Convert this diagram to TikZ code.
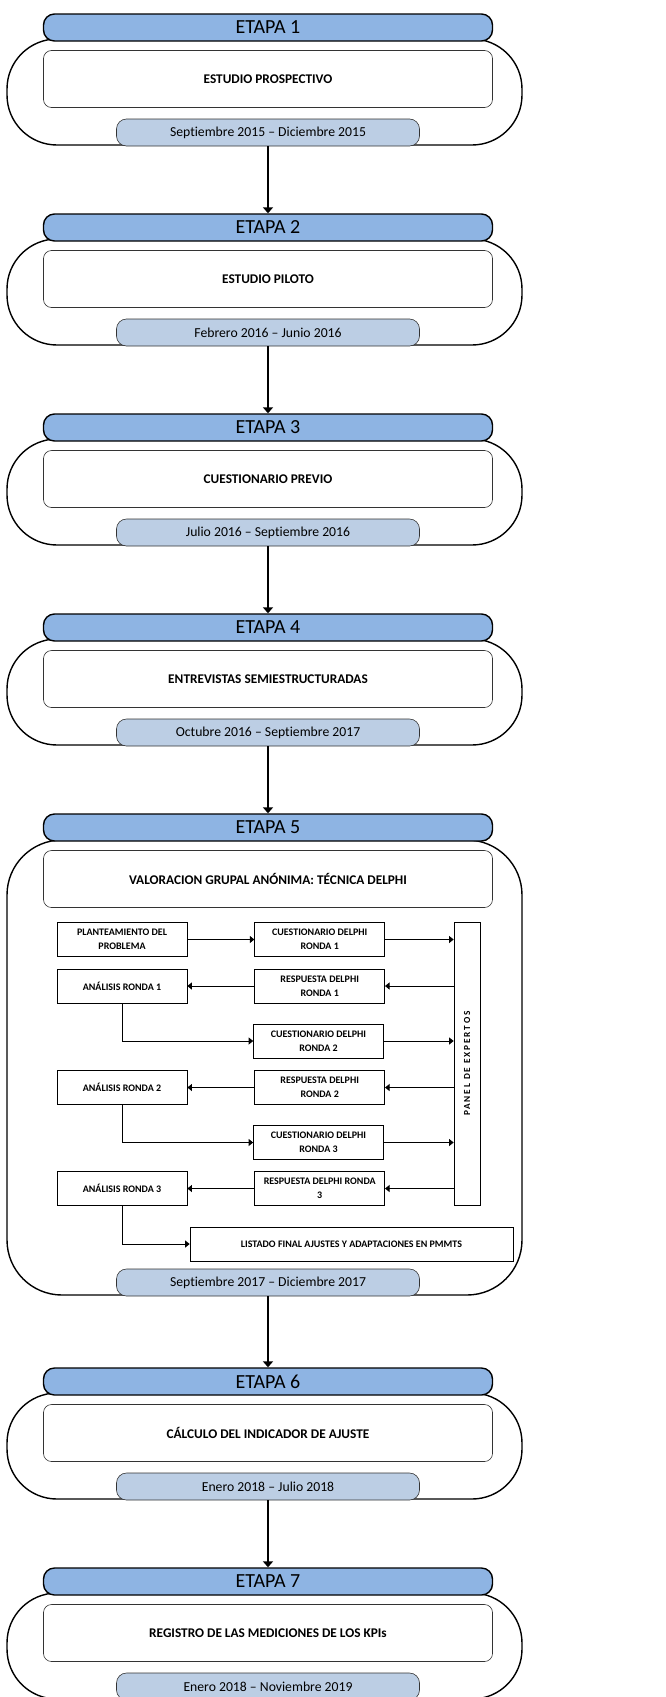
\documentclass[tikz,border=0pt]{standalone}
\usepackage{fontspec}
\setmainfont{Carlito}[Ligatures={TeX,NoCommon}]
\usetikzlibrary{%
    arrows.meta,
    positioning
}
\definecolor{etapaazul}{RGB}{142,180,227}
\definecolor{fechaazul}{RGB}{188,206,228}
\tikzset{headarrow/.style = {-{Triangle[length=6pt,width=10pt]}, line width=1.4pt}}
\tikzset{pasoarrow/.style = {-{Triangle[length=4.5pt,width=7pt]}, line width=0.7pt}}
\tikzset{
    marco/.style    = {draw, line width=1.4pt, fill=white, rounded corners=50pt,
                       minimum width=515pt, minimum height=106pt},
    etapabox/.style = {draw, line width=1.4pt, fill=etapaazul, rounded corners=11pt,
                       minimum width=449pt, minimum height=27pt, inner sep=0pt,
                       font=\fontsize{20}{20}\selectfont},
    temabox/.style  = {draw=black!80, line width=0.6pt, fill=white, rounded corners=8pt,
                       minimum width=449pt, minimum height=57pt, inner sep=0pt,
                       font=\bfseries\fontsize{13.3}{16}\selectfont},
    fechabox/.style = {draw=black!80, line width=0.6pt, fill=fechaazul, rounded corners=10pt,
                       minimum width=303pt, minimum height=27pt, inner sep=0pt,
                       font=\fontsize{13.7}{16}\selectfont},
    pasobox/.style  = {draw, line width=0.7pt, fill=white, align=center, inner sep=1pt,
                       minimum width=130pt, minimum height=34pt,
                       font=\bfseries\fontsize{10}{14}\selectfont}
}

\begin{document}
\begin{tikzpicture}[x=1pt, y=-1pt]
    \useasboundingbox (0,0) rectangle (665,1697);

    % etapas sencillas
    \foreach \n/\y/\tema/\fecha in {%
        1/14/ESTUDIO PROSPECTIVO/Septiembre 2015 -- Diciembre 2015,
        2/214/ESTUDIO PILOTO/Febrero 2016 -- Junio 2016,
        3/414/CUESTIONARIO PREVIO/Julio 2016 -- Septiembre 2016,
        4/614/ENTREVISTAS SEMIESTRUCTURADAS/Octubre 2016 -- Septiembre 2017,
        6/1368/CÁLCULO DEL INDICADOR DE AJUSTE/Enero 2018 -- Julio 2018,
        7/1568/REGISTRO DE LAS MEDICIONES DE LOS KPIs/Enero 2018 -- Noviembre 2019} {
        \node[marco] (marco-\n) at (264.5,\y+78) {};
        \node[etapabox] (etapa-\n) at (268,\y+13.5) {ETAPA \n};
        \node[temabox] (tema-\n) at (268,\y+65) {\tema};
        \node[fechabox] (fecha-\n) at (268,\y+118.5) {\fecha};
    }

    % etapa 5: tecnica delphi
    \node[marco, rounded corners=55pt, minimum height=455pt] (marco-5) at (264.5,1067.5) {};
    \node[etapabox] (etapa-5) at (268,827.5) {ETAPA 5};
    \node[temabox] (tema-5) at (268,879) {VALORACION GRUPAL ANÓNIMA: TÉCNICA DELPHI};
    \node[fechabox] (fecha-5) at (268,1282.5) {Septiembre 2017 -- Diciembre 2017};

    \node[pasobox] (plan) at (122,939.5) {PLANTEAMIENTO DEL\\PROBLEMA};
    \node[pasobox] (cue-1) [right=67pt of plan] {CUESTIONARIO DELPHI\\RONDA 1};
    \node[pasobox] (ana-1) at (122,986) {ANÁLISIS RONDA 1};
    \node[pasobox] (resp-1) [right=67pt of ana-1] {RESPUESTA DELPHI\\RONDA 1};
    \node[pasobox] (cue-2) at (318.5,1041) {CUESTIONARIO DELPHI\\RONDA 2};
    \node[pasobox] (ana-2) at (122,1087.5) {ANÁLISIS RONDA 2};
    \node[pasobox] (resp-2) [right=67pt of ana-2] {RESPUESTA DELPHI\\RONDA 2};
    \node[pasobox] (cue-3) at (318.5,1142.5) {CUESTIONARIO DELPHI\\RONDA 3};
    \node[pasobox] (ana-3) at (122,1188.5) {ANÁLISIS RONDA 3};
    \node[pasobox] (resp-3) [right=67pt of ana-3] {RESPUESTA DELPHI RONDA\\3};
    \node[pasobox, minimum width=323pt] (listado) at (351.5,1244)
        {LISTADO FINAL AJUSTES Y ADAPTACIONES EN PMMTS};
    \node[pasobox, rotate=90, minimum width=283pt, minimum height=26pt,
          font=\bfseries\fontsize{9.3}{11}\selectfont\addfontfeature{LetterSpace=20}]
        (panel) at (467,1063.5) {PANEL DE EXPERTOS};

    \draw[pasoarrow] (plan) -- (cue-1);
    \foreach \k in {1,2,3} {
        \draw[pasoarrow] (cue-\k) -- (cue-\k -| panel.north);
        \draw[pasoarrow] (resp-\k -| panel.north) -- (resp-\k);
        \draw[pasoarrow] (resp-\k) -- (ana-\k);
    }
    \draw[pasoarrow] (ana-1) |- (cue-2);
    \draw[pasoarrow] (ana-2) |- (cue-3);
    \draw[pasoarrow] (ana-3) |- (listado);

    % flechas entre etapas
    \foreach \a/\b in {1/2,2/3,3/4,4/5,5/6,6/7}
        \draw[headarrow] (fecha-\a.south) -- (etapa-\b.north);
\end{tikzpicture}
\end{document}
